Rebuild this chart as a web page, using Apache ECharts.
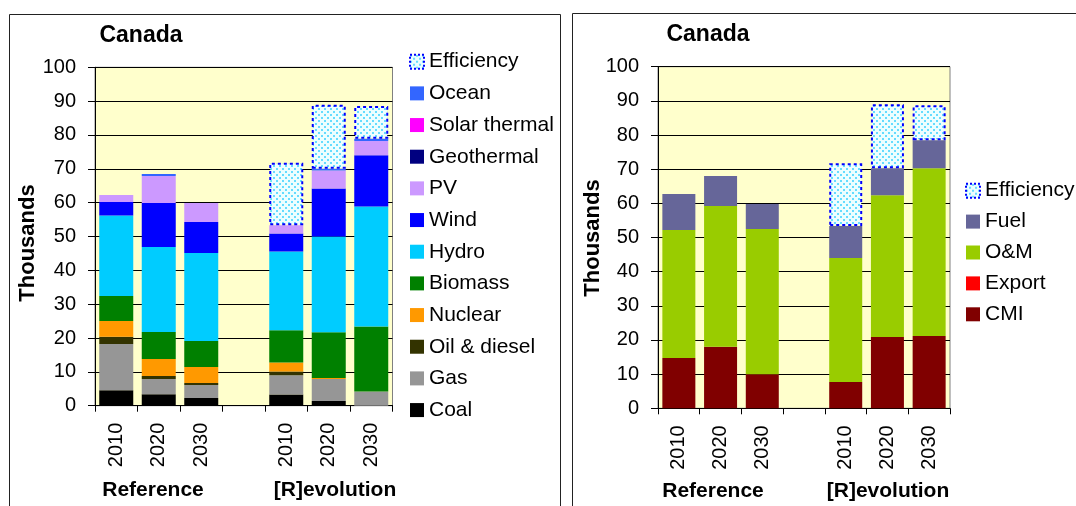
<!DOCTYPE html>
<html><head><meta charset="utf-8">
<script src="https://cdn.jsdelivr.net/npm/echarts@6/dist/echarts.min.js"></script>
<style>html,body{margin:0;padding:0;background:#fff}#c{width:1076px;height:506px}</style>
</head><body><div id="c"></div>
<script>
// ---- data ----
const categories = ['2010', '2020', '2030', '', '2010', '2020', '2030'];
const groupLabels = ['Reference', '[R]evolution'];
const chartTitle = 'Canada';
const yAxisName = 'Thousands';

// left chart: jobs by technology (thousands)
const coal         = [4.6, 3.4, 2.3, null, 3.3, 1.4, 0];
const gas          = [13.6, 4.5, 3.8, null, 5.7, 6.5, 4.2];
const oilDiesel    = [2.2, 0.9, 0.6, null, 1.1, 0, 0];
const nuclear      = [4.6, 5.0, 4.7, null, 2.7, 0.3, 0];
const biomass      = [7.4, 8.0, 7.7, null, 9.5, 13.5, 19.2];
const hydro        = [23.8, 25.1, 26.0, null, 23.3, 28.3, 35.5];
const wind         = [4.0, 13.0, 9.2, null, 5.3, 14.2, 15.1];
const pv           = [2.1, 8.0, 5.6, null, 2.4, 5.3, 4.2];
const geothermal   = [0, 0, 0, null, 0, 0, 0];
const solarThermal = [0, 0, 0, null, 0, 0, 0];
const ocean        = [0, 0.6, 0, null, 0, 0.5, 0.7];
const efficiencyTech = [null, null, null, null, 18.5, 18.9, 9.7];

// right chart: jobs by type (thousands)
const cmi        = [14.7, 18.0, 10.0, null, 7.7, 20.9, 21.2];
const exportJobs = [0, 0, 0, null, 0, 0, 0];
const om         = [37.5, 41.2, 42.5, null, 36.3, 41.5, 49.1];
const fuel       = [10.5, 8.8, 7.3, null, 9.4, 7.9, 8.2];
const efficiencyType = [null, null, null, null, 18.3, 18.7, 10.2];

const leftNames  = ['Coal', 'Gas', 'Oil & diesel', 'Nuclear', 'Biomass', 'Hydro', 'Wind', 'PV', 'Geothermal', 'Solar thermal', 'Ocean', 'Efficiency'];
const leftData   = [coal, gas, oilDiesel, nuclear, biomass, hydro, wind, pv, geothermal, solarThermal, ocean, efficiencyTech];
const leftColors = ['#000000', '#969696', '#333300', '#FF9900', '#008000', '#00CCFF', '#0000FF', '#CC99FF', '#000080', '#FF00FF', '#3366FF', null];

const rightNames  = ['CMI', 'Export', 'O&M', 'Fuel', 'Efficiency'];
const rightData   = [cmi, exportJobs, om, fuel, efficiencyType];
const rightColors = ['#800000', '#FF0000', '#99CC00', '#666699', null];

// ---- rendering ----
const FONT = 'Liberation Sans, Arial, sans-serif';
function makePattern() {
  const c = document.createElement('canvas');
  c.width = 6; c.height = 6;
  const g = c.getContext('2d');
  g.fillStyle = '#eefeff'; g.fillRect(0, 0, 6, 6);
  g.fillStyle = '#66dcff';
  g.fillRect(0, 0, 2, 2); g.fillRect(3, 3, 2, 2);
  return c;
}
const pattern = { image: makePattern(), repeat: 'repeat' };
const effStyle = { color: pattern, borderColor: '#0000FF', borderWidth: 2, borderType: [3, 3] };

function buildSeries(names, data, colors, axisIdx, stack, barWidth) {
  return names.map((n, i) => ({
    name: n, type: 'bar', stack: stack, xAxisIndex: axisIdx, yAxisIndex: axisIdx,
    barWidth: barWidth, data: data[i],
    itemStyle: colors[i] ? { color: colors[i] } : effStyle,
    emphasis: { disabled: true }
  }));
}

const grids = [
  { left: 95, top: 67.3, width: 297.5, height: 338.4 },
  { left: 658, top: 66.7, width: 292, height: 341.6 }
];

function xAx(idx) {
  return {
    type: 'category', gridIndex: idx, data: categories,
    axisLine: { show: true, lineStyle: { color: '#000', width: 1 } },
    axisTick: { show: true, interval: 0, length: 6, lineStyle: { color: '#000' } },
    axisLabel: { rotate: 90, interval: 0, fontSize: 20, color: '#000', fontFamily: FONT, margin: 17 },
    splitLine: { show: false }
  };
}
function yAx(idx) {
  return {
    type: 'value', gridIndex: idx, min: 0, max: 100, interval: 10,
    axisLine: { show: true, lineStyle: { color: '#000', width: 1 } },
    axisTick: { show: true, length: 7, lineStyle: { color: '#000' } },
    axisLabel: { fontSize: 20, color: '#000', fontFamily: FONT, margin: 19 },
    splitLine: { show: true, lineStyle: { color: '#000', width: 1 } }
  };
}

function legendData(names) {
  return names.slice().reverse().map(n => n === 'Efficiency'
    ? { name: n, itemStyle: { color: pattern, borderColor: '#0000FF', borderWidth: 2, borderType: [2, 2] } }
    : { name: n });
}
const legendCommon = {
  orient: 'vertical', align: 'left', icon: 'rect', itemWidth: 14, itemHeight: 14, padding: 0,
  textStyle: { fontSize: 21, color: '#000', fontFamily: FONT },
  selectedMode: false
};

function txt(text, x, y, size, bold, rot) {
  return {
    type: 'text', x: x, y: y, rotation: rot || 0,
    style: { text: text, fontSize: size, fontWeight: bold ? 'bold' : 'normal', fontFamily: FONT,
             fill: '#000', align: 'center', verticalAlign: 'middle' }
  };
}

const option = {
  animation: false,
  backgroundColor: '#fff',
  grid: grids.map(g => Object.assign({ show: true, backgroundColor: '#FFFFCC', borderColor: '#808080', borderWidth: 1 }, g)),
  xAxis: [xAx(0), xAx(1)],
  yAxis: [yAx(0), yAx(1)],
  legend: [
    Object.assign({ left: 409, top: 51.2, itemGap: 10.67, data: legendData(leftNames) }, legendCommon),
    Object.assign({ left: 965, top: 180.2, itemGap: 9.9, data: legendData(rightNames) }, legendCommon)
  ],
  graphic: [
    { type: 'rect', shape: { x: 9.5, y: 14.5, width: 551, height: 510 }, style: { fill: 'none', stroke: '#222', lineWidth: 1 } },
    { type: 'rect', shape: { x: 572.5, y: 13.5, width: 520, height: 510 }, style: { fill: 'none', stroke: '#222', lineWidth: 1 } },
    txt(chartTitle, 141, 36, 23, true),
    txt(chartTitle, 708, 35, 23, true),
    txt(yAxisName, 28, 243, 22, true, Math.PI / 2),
    txt(yAxisName, 593, 238, 22, true, Math.PI / 2),
    txt(groupLabels[0], 153, 490, 21, true),
    txt(groupLabels[1], 335, 490, 21, true),
    txt(groupLabels[0], 713, 491, 21, true),
    txt(groupLabels[1], 888, 491, 21, true)
  ],
  series: buildSeries(leftNames, leftData, leftColors, 0, 'tech', 34)
    .concat(buildSeries(rightNames, rightData, rightColors, 1, 'type', 33))
};

const chart = echarts.init(document.getElementById('c'), null, { renderer: 'canvas' });
chart.setOption(option);
</script>
</body></html>
